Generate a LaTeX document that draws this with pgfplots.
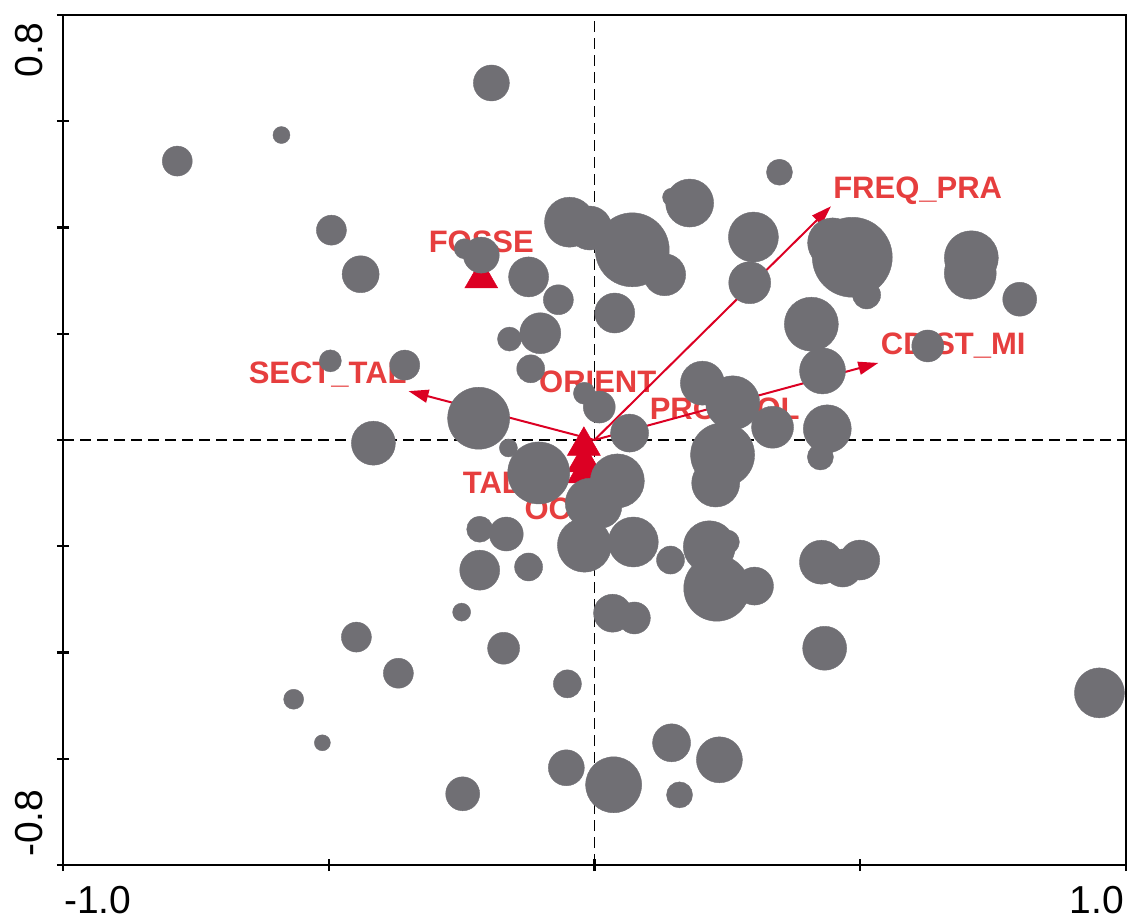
\documentclass[border=0pt]{standalone}
\usepackage{fontspec}
\setmainfont{Liberation Sans}
\usepackage{pgfplots}
\pgfplotsset{compat=1.18}
\usetikzlibrary{arrows.meta}

\definecolor{bubble}{RGB}{112,111,116}
\definecolor{vecred}{RGB}{220,0,35}
\definecolor{labred}{RGB}{230,62,62}

\newcommand{\labfont}{\bfseries\fontsize{31}{31}\selectfont}
\newcommand{\tickfont}{\fontsize{39}{39}\selectfont}

% sites: x, y, bubble radius (pt)
\pgfplotstableread{
x y r
-0.785 0.525 15
-0.589 0.574 8.5
-0.495 0.395 15
-0.440 0.312 18.5
-0.194 0.672 18
-0.497 0.149 11
-0.357 0.141 15
-0.416 -0.006 22
-0.218 0.041 31
-0.162 -0.015 9
-0.213 0.348 18
-0.245 0.360 10
-0.124 0.307 20
-0.068 0.264 15
-0.102 0.201 20.5
-0.160 0.190 12
-0.120 0.134 14
-0.019 0.088 11
0.009 0.062 16
0.066 0.013 19
-0.047 0.410 25
-0.009 0.399 22
0.071 0.358 37
0.132 0.311 21
0.038 0.239 20
0.179 0.446 24
0.145 0.457 9
0.348 0.504 13
0.299 0.382 25
0.292 0.296 21
0.485 0.344 40
0.448 0.371 25
0.512 0.273 14
0.709 0.343 27
0.707 0.314 26
0.800 0.265 17
0.408 0.218 27
0.627 0.177 16
0.429 0.130 23
0.438 0.021 24
0.425 -0.032 13
0.203 0.107 22
0.260 0.070 27
0.335 0.024 21
0.241 -0.028 32
0.228 -0.081 24
-0.105 -0.062 31
0.043 -0.077 27
-0.008 -0.119 25
0.010 -0.125 22
-0.019 -0.198 27
0.073 -0.192 25
-0.216 -0.168 13
-0.166 -0.177 17
-0.216 -0.245 20
-0.124 -0.239 14
-0.250 -0.324 9
-0.171 -0.392 16
-0.051 -0.459 14
-0.369 -0.439 15
0.034 -0.326 19
0.075 -0.335 16
0.143 -0.226 14
0.216 -0.201 26
0.250 -0.192 12
0.230 -0.279 33
0.301 -0.275 19
0.427 -0.230 22
0.499 -0.226 20
0.467 -0.241 19
0.433 -0.392 22
0.950 -0.476 25
-0.053 -0.617 18
0.036 -0.649 28
0.145 -0.570 19
0.235 -0.602 23
0.160 -0.668 13
-0.248 -0.666 17
-0.448 -0.371 15
-0.566 -0.488 10
-0.512 -0.570 8
}\sites

\begin{document}
\begin{tikzpicture}
\begin{axis}[
  name=ax,
  scale only axis,
  width=1063pt, height=850pt,
  xmin=-1, xmax=1, ymin=-0.8, ymax=0.8,
  xtick={-1,-0.5,0,0.5,1},
  ytick={-0.8,-0.6,-0.4,-0.2,0,0.2,0.4,0.6,0.8},
  xticklabels={}, yticklabels={},
  tick pos=left,
  tick align=center,
  major tick length=12pt,
  every tick/.style={black, line width=2.2pt},
  axis line style={black, line width=2.5pt},
  clip=false,
]
% zero lines
\addplot[black, line width=1.2pt, dash pattern=on 11pt off 6pt] coordinates {(-1,0) (1,0)};
\addplot[black, line width=1.2pt, dash pattern=on 11pt off 6pt] coordinates {(0,-0.8) (0,0.8)};

% variable labels
\begin{scope}[every node/.style={text=labred, font=\labfont, inner sep=0pt}]
\node[anchor=base] at (axis cs:-0.213,0.352) {FOSSE};
\node[anchor=base] at (axis cs:-0.502,0.107) {SECT\_TAL};
\node[anchor=base] at (axis cs:0.006,0.090) {ORIENT};
\node[anchor=base] at (axis cs:0.245,0.038) {PROFSOL};
\node[anchor=base] at (axis cs:0.608,0.454) {FREQ\_PRA};
\node[anchor=base] at (axis cs:0.675,0.160) {CDIST\_MI};
\node[anchor=base west] at (axis cs:-0.248,-0.100) {TAL};
\node[anchor=base west] at (axis cs:-0.132,-0.149) {OC};
\end{scope}

% quantitative variables
\addplot[vecred, line width=2pt, -{Triangle[length=20pt,width=13pt]}] coordinates {(0,0) (0.445,0.440)};
\addplot[vecred, line width=2pt, -{Triangle[length=20pt,width=13pt]}] coordinates {(0,0) (0.534,0.145)};
\addplot[vecred, line width=2pt, -{Triangle[length=20pt,width=13pt]}] coordinates {(0,0) (-0.350,0.092)};

% nominal variable centroids
\addplot[only marks, mark=triangle*, mark size=19pt, color=vecred, mark options={line width=0.5pt}]
  coordinates {(-0.213,0.304) (-0.020,-0.011) (-0.020,-0.042) (-0.020,-0.063)};

% sites
\addplot[
  scatter, only marks, mark=*,
  scatter/use mapped color={draw=bubble, fill=bubble},
  visualization depends on={\thisrow{r} \as \rr},
  scatter/@pre marker code/.append style={/tikz/mark size=\rr pt, /tikz/line width=0.3pt},
] table[x=x, y=y, meta=r] {\sites};

% tick labels
\node[font=\tickfont, rotate=90, anchor=south east, inner sep=0pt] at ([shift={(-20pt,-8pt)}]rel axis cs:0,1) {0.8};
\node[font=\tickfont, rotate=90, anchor=south west, inner sep=0pt] at ([shift={(-20pt,8pt)}]rel axis cs:0,0) {-0.8};
\node[font=\tickfont, anchor=north west, inner sep=0pt] at ([shift={(1pt,-21pt)}]rel axis cs:0,0) {-1.0};
\node[font=\tickfont, anchor=north east, inner sep=0pt] at ([shift={(-2pt,-21pt)}]rel axis cs:1,0) {1.0};
\end{axis}
\pgfresetboundingbox
\path[use as bounding box] ([shift={(-63pt,-52pt)}]ax.south west) rectangle ([shift={(2pt,15pt)}]ax.north east);
\end{tikzpicture}
\end{document}
